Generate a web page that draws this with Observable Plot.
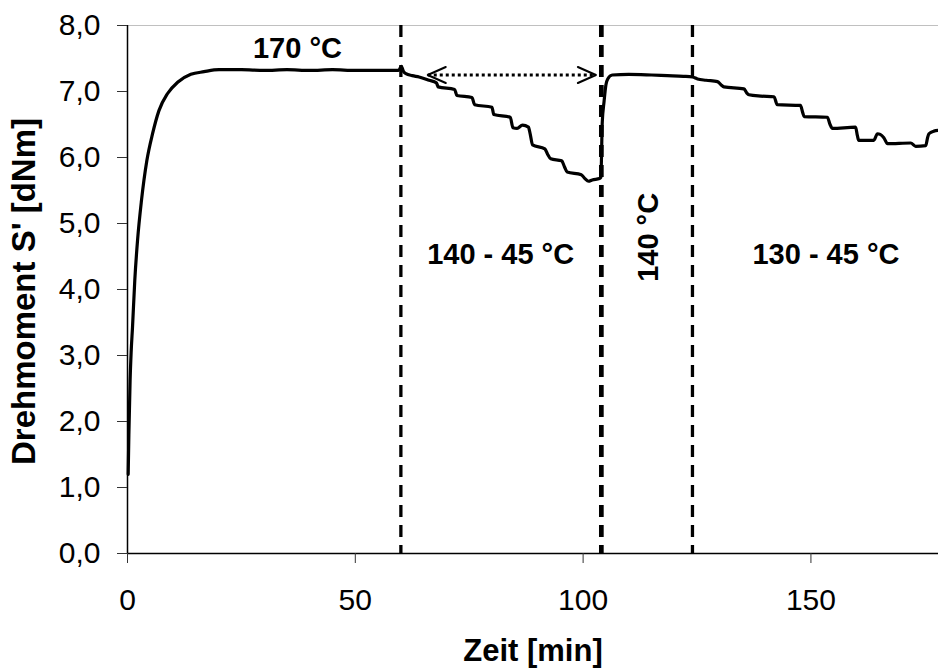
<!DOCTYPE html>
<html><head><meta charset="utf-8">
<script src="https://cdn.jsdelivr.net/npm/d3@7"></script>
<script src="https://cdn.jsdelivr.net/npm/@observablehq/plot@0.6"></script>
<style>body{margin:0;background:#fff}</style>
</head><body><div id="chart"></div>
<script>
// Time [min] and torque S' [dNm]
const time = [0.15,0.3,0.57,0.8,1.1,1.6,2.2,3.07,4.24,5.5,6.9,8.8,11,13.9,16.8,20.1,25,30,35,40,45,50,55,59.5,60.1,60.6,61.1,
  62.5,64,66.2,67.8,68.2,71.8,72.3,75.6,76.2,80,80.4,84,84.6,85.5,86.7,88,88.4,88.9,91.6,92.2,92.9,95.3,95.9,96.5,99.6,100.4,101.2,102,103.6,103.9,
  104.2,104.6,105.0,105.4,106.4,110,115,118.5,122,124,125.1,127,129.5,130.3,130.9,135.3,135.9,136.4,139,141.9,142.6,147.7,148.2,148.5,153.6,154.2,154.7,
  159.8,160.2,160.5,163.8,164.6,165.2,166,166.8,171.9,173,175.2,175.6,175.9,177,178];
const torque = [1.2,1.8,2.62,3.05,3.43,4.14,4.74,5.35,5.95,6.36,6.71,6.97,7.14,7.26,7.30,7.33,7.33,7.32,7.33,7.32,7.33,7.32,7.32,7.32,7.38,7.30,7.27,
  7.24,7.22,7.17,7.13,7.07,7.03,6.94,6.91,6.80,6.76,6.65,6.61,6.45,6.44,6.49,6.46,6.35,6.19,6.13,6.05,5.98,5.95,5.86,5.78,5.74,5.68,5.64,5.66,5.68,5.70,
  6.53,6.85,7.10,7.19,7.25,7.26,7.25,7.24,7.23,7.22,7.19,7.17,7.15,7.10,7.07,7.04,6.98,6.95,6.93,6.92,6.80,6.79,6.68,6.62,6.61,6.50,6.44,
  6.46,6.33,6.26,6.26,6.36,6.35,6.30,6.21,6.22,6.17,6.18,6.30,6.36,6.40,6.41];

const xTicks = [0, 50, 100, 150];
const yTicks = [0, 1, 2, 3, 4, 5, 6, 7, 8];

// Phase boundaries (dashed verticals)
const boundaryTime = [60, 104, 124];
const boundaryWeight = [3.3, 4.7, 3.3];

// Temperature annotations
const annText = ["170 °C", "140 - 45 °C", "140 °C", "130 - 45 °C"];
const annTime = [37.3, 81.9, 114.3, 153.3];
const annTorque = [7.65, 4.53, 4.79, 4.53];
const annRotate = [0, 0, -90, 0];

// Dotted double arrow
const arrowStart = [65.9, 7.25];
const arrowEnd = [102.8, 7.25];

const chevron = {
  draw(context, l, r) {
    context.moveTo(-r, 0);
    context.lineTo(0, -l);
    context.lineTo(r, 0);
  }
};

const font = "'Liberation Sans', Arial, sans-serif";
const idx = annText.map((d, i) => i);

const plot = Plot.plot({
  width: 938,
  height: 668,
  marginLeft: 127,
  marginRight: 0,
  marginTop: 25,
  marginBottom: 115,
  x: {domain: [0, 178]},
  y: {domain: [0, 8]},
  style: {fontFamily: font, fontSize: "30px", color: "black", background: "white"},
  marks: [
    Plot.ruleY([8], {stroke: "#c0c0c0", strokeWidth: 1.2}),
    Plot.ruleX(boundaryTime, {x: d => d, y1: 8, y2: 0, stroke: "black", strokeWidth: (d, i) => boundaryWeight[i], strokeDasharray: "12,8"}),
    Plot.line(time.map((t, i) => i), {x: i => time[i], y: i => torque[i], stroke: "black", strokeWidth: 3.2, curve: "monotone-x"}),
    Plot.link([0], {x1: () => arrowStart[0], y1: () => arrowStart[1], x2: () => arrowEnd[0], y2: () => arrowEnd[1], stroke: "black", strokeWidth: 3, strokeDasharray: "3,3"}),
    Plot.vector([arrowStart, arrowEnd], {x: d => d[0], y: d => d[1], rotate: (d, i) => i === 0 ? -90 : 90, length: 18, r: 8, anchor: "end", shape: chevron, stroke: "black", strokeWidth: 2}),
    Plot.text(idx, {x: i => annTime[i], y: i => annTorque[i], text: i => annText[i], rotate: i => annRotate[i], fontSize: 29, fontWeight: "bold", textAnchor: "middle", lineAnchor: "middle"}),
    Plot.ruleY([0], {stroke: "black", strokeWidth: 1.5}),
    Plot.ruleX([0], {stroke: "black", strokeWidth: 1.5}),
    Plot.axisX(xTicks, {tickSize: 10, tickPadding: 25, fontSize: 30, label: null, stroke: "#333"}),
    Plot.axisY(yTicks, {tickSize: 10, tickPadding: 17, fontSize: 30, label: null, stroke: "#333", tickFormat: d => d.toFixed(1).replace(".", ",")}),
    Plot.text(["Zeit [min]"], {text: d => d, frameAnchor: "bottom", dy: 98, textAnchor: "middle", lineAnchor: "middle", fontSize: 31, fontWeight: "bold"}),
    Plot.text(["Drehmoment S' [dNm]"], {text: d => d, frameAnchor: "left", dx: -103, dy: 2, rotate: -90, textAnchor: "middle", lineAnchor: "middle", fontSize: 33, fontWeight: "bold"})
  ]
});
document.getElementById("chart").appendChild(plot);
</script>
</body></html>
